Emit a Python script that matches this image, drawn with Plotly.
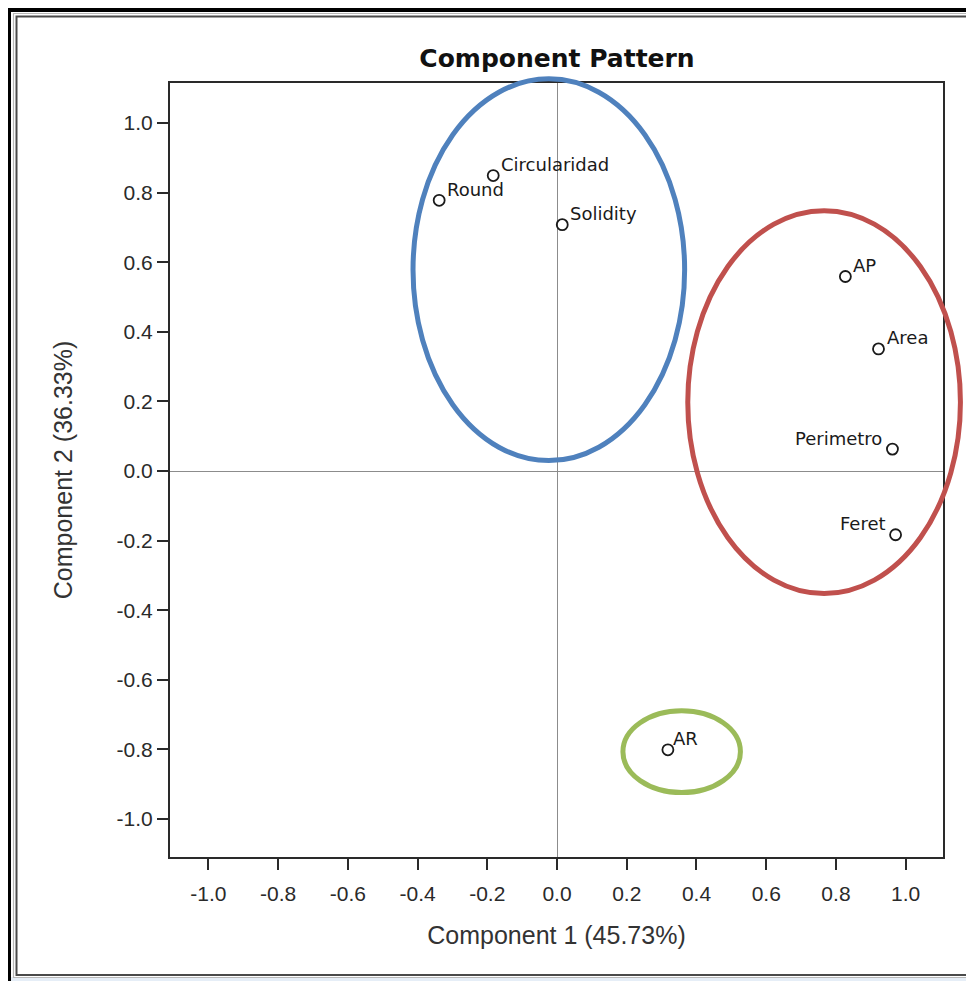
import plotly.graph_objects as go

# ---- data ----
variables = ["Circularidad", "Round", "Solidity", "AP", "Area", "Perimetro", "Feret", "AR"]
comp1 = [-0.183, -0.338, 0.015, 0.827, 0.922, 0.962, 0.971, 0.318]
comp2 = [0.849, 0.778, 0.708, 0.559, 0.351, 0.063, -0.183, -0.801]
label_side = ["right", "right", "right", "right", "right", "left", "left", "right"]

tick_vals = [-1.0, -0.8, -0.6, -0.4, -0.2, 0.0, 0.2, 0.4, 0.6, 0.8, 1.0]
tick_text = ["-1.0", "-0.8", "-0.6", "-0.4", "-0.2", "0.0", "0.2", "0.4", "0.6", "0.8", "1.0"]

title_text = "Component Pattern"
x_title = "Component 1 (45.73%)"
y_title = "Component 2 (36.33%)"

# group ellipses (x0, x1, y0, y1) in component units
group_names = ["blue", "red", "green"]
group_x0 = [-0.413, 0.375, 0.189]
group_x1 = [0.366, 1.157, 0.526]
group_y0 = [0.030, -0.352, -0.924]
group_y1 = [1.127, 0.748, -0.689]
group_colors = ["#4F81BD", "#C0504D", "#9BBB59"]

# ---- layout geometry (page pixels; the figure sits 8px in from the page corner) ----
OFF = 8
PW, PH = 974, 981
W, H = PW - OFF, PH - OFF
PL, PR, PT, PB = 170, 943, 83, 857   # plot box in page pixels
ML, MR, MT, MB = PL - OFF, PW - PR, PT - OFF, PH - PB
XR = [-1.11, 1.107]
YR = [-1.109, 1.115]

def px_x(p):
    return (p - PL) / (PR - PL)

def px_y(p):
    return (PB - p) / (PB - PT)

def dx(v):
    return (v - XR[0]) / (XR[1] - XR[0])

def dy(v):
    return (v - YR[0]) / (YR[1] - YR[0])

fig = go.Figure()
fig.add_trace(go.Scatter(
    x=comp1, y=comp2, mode="markers",
    marker=dict(symbol="circle-open", size=11, color="#1a1a1a",
                line=dict(width=1.8, color="#1a1a1a")),
    hoverinfo="text", text=variables, showlegend=False,
))

annotations = []
lab_font = dict(family="DejaVu Sans", size=18, color="#1a1a1a")
for name, xv, yv, side in zip(variables, comp1, comp2, label_side):
    if side == "right":
        annotations.append(dict(x=xv, y=yv, xref="x", yref="y", text=name,
                                showarrow=False, xanchor="left", yanchor="middle",
                                xshift=6 if name != "AR" else 3, yshift=11, font=lab_font))
    else:
        annotations.append(dict(x=xv, y=yv, xref="x", yref="y", text=name,
                                showarrow=False, xanchor="right", yanchor="middle",
                                xshift=-8, yshift=11, font=lab_font))

shapes = []
# outer frame
shapes.append(dict(type="rect", xref="paper", yref="paper",
                   x0=px_x(0), x1=px_x(PW + 5), y0=px_y(977), y1=px_y(PH + 5),
                   fillcolor="#e6eef7", line=dict(width=0), layer="below"))
shapes.append(dict(type="line", xref="paper", yref="paper",
                   x0=px_x(9), x1=px_x(9), y0=px_y(8), y1=px_y(PH + 5),
                   line=dict(color="#000000", width=4)))
shapes.append(dict(type="line", xref="paper", yref="paper",
                   x0=px_x(7), x1=px_x(PW + 5), y0=px_y(10), y1=px_y(10),
                   line=dict(color="#000000", width=4)))
shapes.append(dict(type="rect", xref="paper", yref="paper",
                   x0=px_x(13.5), x1=px_x(PW + 10), y0=px_y(977.5), y1=px_y(13.5),
                   line=dict(color="#b8b8b8", width=1.2)))
shapes.append(dict(type="rect", xref="paper", yref="paper",
                   x0=px_x(16.5), x1=px_x(PW + 10), y0=px_y(975), y1=px_y(16.5),
                   line=dict(color="#4a4a4a", width=2)))

# group ellipses
for gx0, gx1, gy0, gy1, col in zip(group_x0, group_x1, group_y0, group_y1, group_colors):
    shapes.append(dict(type="circle", xref="paper", yref="paper",
                       x0=dx(gx0), x1=dx(gx1), y0=dy(gy0), y1=dy(gy1),
                       line=dict(color=col, width=5)))

axis_common = dict(
    showgrid=False, zeroline=True, zerolinecolor="#8c8c8c", zerolinewidth=1.3,
    showline=True, linecolor="#2a2a2a", linewidth=2, mirror=True,
    ticks="outside", ticklen=11, tickwidth=2, tickcolor="#2a2a2a",
    tickvals=tick_vals, ticktext=tick_text,
    tickfont=dict(family="Liberation Sans", size=21, color="#2a2a2a"),
)

fig.update_layout(
    width=W, height=H,
    margin=dict(l=ML, r=MR, t=MT, b=MB),
    paper_bgcolor="white", plot_bgcolor="white",
    title=dict(text="<b>" + title_text + "</b>", x=px_x(557), xanchor="center",
               xref="paper", y=1 - (58 - OFF) / H, yanchor="middle",
               font=dict(family="DejaVu Sans", size=25, color="#111111")),
    xaxis=dict(range=XR, title=dict(text=x_title, standoff=22,
               font=dict(family="Liberation Sans", size=25, color="#333333")),
               ticklabelstandoff=6, **axis_common),
    yaxis=dict(range=YR, title=dict(text=y_title, standoff=37,
               font=dict(family="Liberation Sans", size=25, color="#333333")),
               ticklabelstandoff=0, **axis_common),
    shapes=shapes, annotations=annotations,
)

fig.write_html("out.html")
